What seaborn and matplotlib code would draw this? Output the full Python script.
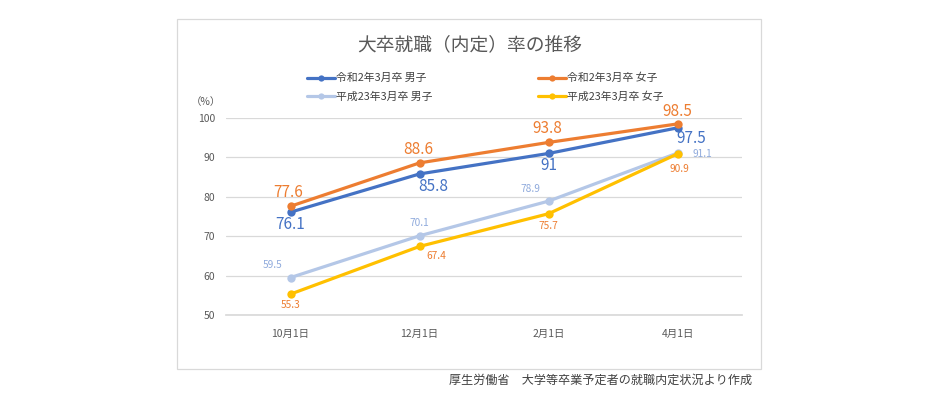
import pandas as pd
import matplotlib.pyplot as plt
import seaborn as sns
from matplotlib.patches import Rectangle

# data
dates = ['10月1日', '12月1日', '2月1日', '4月1日']
r2_male = [76.1, 85.8, 91, 97.5]
r2_female = [77.6, 88.6, 93.8, 98.5]
h23_male = [59.5, 70.1, 78.9, 91.1]
h23_female = [55.3, 67.4, 75.7, 90.9]
series_names = ['令和2年3月卒 男子', '令和2年3月卒 女子', '平成23年3月卒 男子', '平成23年3月卒 女子']

sns.set_theme(style='white')
plt.rcParams['font.family'] = ['Noto Sans CJK JP', 'DejaVu Sans']

rows = []
for name, vals in zip(series_names, [r2_male, r2_female, h23_male, h23_female]):
    for i, v in enumerate(vals):
        rows.append({'series': name, 'pos': i, 'date': dates[i], 'value': v})
df = pd.DataFrame(rows)

colors = ['#4472C4', '#ED7D31', '#B4C7E7', '#FFC000']
palette = dict(zip(series_names, colors))

fig = plt.figure(figsize=(9.38, 3.94), dpi=100)
ax = fig.add_axes([226 / 938, 1 - 315 / 394, (742 - 226) / 938, (315 - 118) / 394])

sns.lineplot(data=df, x='pos', y='value', hue='series', palette=palette,
             hue_order=series_names, marker='o', markersize=6, markeredgewidth=0,
             linewidth=2.3, ax=ax, legend=False)

ax.set_xlim(-0.5, 3.5)
ax.set_ylim(50, 100)
ax.set_yticks(range(50, 101, 10))
ax.set_xticks(range(4))
ax.set_xticklabels(dates)
ax.set_xlabel('')
ax.set_ylabel('')
ax.yaxis.grid(True, color='#D9D9D9', linewidth=0.9)
ax.set_axisbelow(True)
for s in ['top', 'right', 'left']:
    ax.spines[s].set_visible(False)
ax.spines['bottom'].set_color('#D9D9D9')
ax.tick_params(axis='both', labelsize=7.5, colors='#595959', length=0, pad=8)
ax.tick_params(axis='x', pad=10)
# small ticks on category boundaries
ax.set_xticks([-0.5, 0.5, 1.5, 2.5, 3.5], minor=True)
ax.tick_params(axis='x', which='minor', length=4, color='#D9D9D9', width=0.9)

# data labels: (offset x, offset y) in points
big = dict(fontsize=11)
small = dict(fontsize=7.3)
r2m_off = [(0, -9), (10, -9), (0, -9), (10, -8)]
r2f_off = [(-2, 10), (-1, 10), (-1, 10), (0, 9)]
h23m_off = [(-13, 9), (0, 9), (-13, 9), (18, -1)]
h23f_off = [(0, -8), (12, -7), (0, -9), (1, -11)]
for i in range(4):
    ax.annotate(f'{r2_male[i]:g}', (i, r2_male[i]), xytext=r2m_off[i], textcoords='offset points',
                ha='center', va='center', color='#4472C4', **big)
    ax.annotate(f'{r2_female[i]:g}', (i, r2_female[i]), xytext=r2f_off[i], textcoords='offset points',
                ha='center', va='center', color='#ED7D31', **big)
    ax.annotate(f'{h23_male[i]:g}', (i, h23_male[i]), xytext=h23m_off[i], textcoords='offset points',
                ha='center', va='center', color='#8FAADC', **small)
    ax.annotate(f'{h23_female[i]:g}', (i, h23_female[i]), xytext=h23f_off[i], textcoords='offset points',
                ha='center', va='center', color='#ED7D31', **small)

# legend, filled row by row
handles = [plt.Line2D([], [], color=c, marker='o', markersize=4.5, markeredgewidth=0, linewidth=2.3)
           for c in colors]
order = [0, 2, 1, 3]
fig.legend([handles[k] for k in order], [series_names[k] for k in order], ncol=2, loc='center',
           bbox_to_anchor=(485 / 938, 1 - 87.5 / 394), frameon=False, fontsize=7.8,
           columnspacing=9.7, handlelength=2.6, handletextpad=0.1,
           labelspacing=0.75, labelcolor='#404040')

fig.text(470 / 938, 1 - 45 / 394, '大卒就職（内定）率の推移', ha='center', va='center',
         fontsize=13.5, color='#595959')
fig.text(206 / 938, 1 - 102 / 394, '（%）', ha='center', va='center', fontsize=7.5, color='#595959')
fig.text(752 / 938, 1 - 380 / 394, '厚生労働省　大学等卒業予定者の就職内定状況より作成', ha='right',
         va='center', fontsize=8.7, color='#404040')

fig.patches.append(Rectangle((177 / 938, 1 - 369 / 394), (761 - 177) / 938, (369 - 19) / 394,
                             transform=fig.transFigure, fill=False, edgecolor='#D9D9D9', linewidth=0.9))

fig.savefig('out.png', dpi=100)
